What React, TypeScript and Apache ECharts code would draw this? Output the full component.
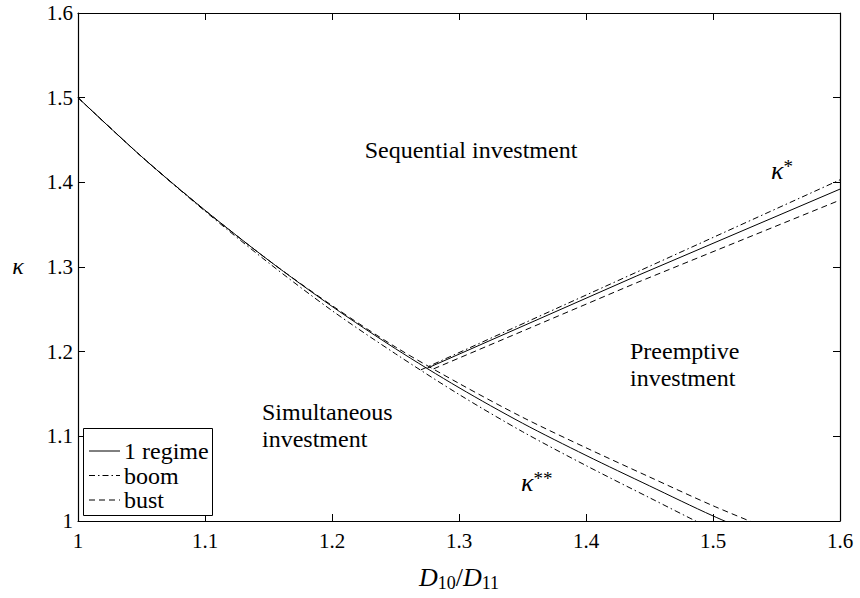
import React, { useEffect, useRef } from "react";
import * as echarts from "echarts";

// kappa** boundary (simultaneous vs. sequential/preemptive)
const xLower = [1, 1.05, 1.1, 1.15, 1.2, 1.25, 1.3, 1.35, 1.4, 1.45, 1.5, 1.55];
const regimeLower = [1.5, 1.4305, 1.367, 1.308, 1.2535, 1.2035, 1.1575, 1.1155, 1.0775, 1.0415, 1.006, 0.974];
const boomLower = [1.5, 1.4305, 1.366, 1.305, 1.2485, 1.1975, 1.1495, 1.1055, 1.0655, 1.0275, 0.99, 0.956];
const bustLower = [1.5, 1.4305, 1.367, 1.308, 1.2545, 1.2055, 1.1625, 1.1225, 1.0865, 1.052, 1.018, 0.987];

// kappa* boundary (sequential vs. preemptive)
const regimeUpperX = [1.275, 1.44, 1.6];
const regimeUpperY = [1.1805, 1.2895, 1.392];
const boomUpperX = [1.27, 1.44, 1.6];
const boomUpperY = [1.1785, 1.294, 1.403];
const bustUpperX = [1.28, 1.44, 1.6];
const bustUpperY = [1.1797, 1.2815, 1.379];

const legendNames = ["1 regime", "boom", "bust"];
const axisTicks = { min: 1, max: 1.6, interval: 0.1 };

const SERIF = "'Liberation Serif', 'Times New Roman', serif";
const DASH_DOT = [6, 3, 1.5, 3];
const DASHED = [6, 4];
const legendDash: any[] = [null, DASH_DOT, DASHED];

const pairs = (xs: number[], ys: number[]) => xs.map((x, i) => [x, ys[i]]);

export default function App() {
  const ref = useRef<HTMLDivElement>(null);

  useEffect(() => {
    const chart = echarts.init(ref.current!, null, { renderer: "svg" });

    const lineSeries = (name: string, data: number[][], type: any, smooth: number) => ({
      type: "line",
      name,
      data,
      symbol: "none",
      showSymbol: false,
      smooth,
      clip: true,
      lineStyle: { color: "#000", width: 1, type },
      itemStyle: { color: "#000" },
      emphasis: { disabled: true },
    });

    const baseX = {
      type: "value",
      ...axisTicks,
      splitLine: { show: false },
      axisLine: { show: true, onZero: false, lineStyle: { color: "#000", width: 1.2 } },
      axisTick: { show: true, inside: true, length: 7, lineStyle: { color: "#000" } },
    };

    const tickLabel = {
      show: true,
      fontFamily: SERIF,
      fontSize: 21,
      color: "#000",
      formatter: (v: number) => String(+v.toFixed(1)),
    };

    // manual MATLAB-style legend box
    const legendTop = 428;
    const legendRowY = [451, 475.5, 500];
    const legendGraphics: any[] = [
      {
        type: "rect",
        shape: { x: 83.5, y: legendTop + 0.5, width: 129, height: 87 },
        style: { fill: "#fff", stroke: "#000", lineWidth: 1 },
        z: 100,
      },
    ];
    legendNames.forEach((name, i) => {
      legendGraphics.push({
        type: "line",
        shape: { x1: 89, y1: legendRowY[i], x2: 120, y2: legendRowY[i] },
        style: { stroke: "#000", lineWidth: 1, lineDash: legendDash[i] || undefined },
        z: 101,
      });
      legendGraphics.push({
        type: "text",
        x: 124,
        y: legendRowY[i],
        style: { text: name, fontFamily: SERIF, fontSize: 24, fill: "#000", align: "left", verticalAlign: "middle" },
        z: 101,
      });
    });

    const option: any = {
      animation: false,
      backgroundColor: "#fff",
      grid: { left: 78, right: 20, top: 13, bottom: 77, containLabel: false },
      xAxis: [
        { ...baseX, position: "bottom", axisLabel: { ...tickLabel, margin: 9 } },
        { ...baseX, position: "top", axisLabel: { show: false } },
      ],
      yAxis: [
        { ...baseX, position: "left", axisLabel: { ...tickLabel, margin: 5 } },
        { ...baseX, position: "right", axisLabel: { show: false } },
      ],
      series: [
        lineSeries("1 regime", pairs(xLower, regimeLower), "solid", 0.3),
        lineSeries("boom", pairs(xLower, boomLower), DASH_DOT, 0.3),
        lineSeries("bust", pairs(xLower, bustLower), DASHED, 0.3),
        lineSeries("1 regime κ*", pairs(regimeUpperX, regimeUpperY), "solid", 0),
        lineSeries("boom κ*", pairs(boomUpperX, boomUpperY), DASH_DOT, 0),
        lineSeries("bust κ*", pairs(bustUpperX, bustUpperY), DASHED, 0),
      ],
      graphic: [
        {
          type: "text",
          x: 471,
          y: 150,
          style: { text: "Sequential investment", fontFamily: SERIF, fontSize: 24, fill: "#000", align: "center", verticalAlign: "middle" },
        },
        {
          type: "text",
          x: 630,
          y: 364,
          style: { text: "Preemptive\ninvestment", fontFamily: SERIF, fontSize: 24, lineHeight: 27, fill: "#000", align: "left", verticalAlign: "middle" },
        },
        {
          type: "text",
          x: 262,
          y: 425,
          style: { text: "Simultaneous\ninvestment", fontFamily: SERIF, fontSize: 24, lineHeight: 27, fill: "#000", align: "left", verticalAlign: "middle" },
        },
        {
          type: "text",
          x: 771,
          y: 170,
          style: {
            text: "{k|κ}{s|*}",
            align: "left",
            verticalAlign: "middle",
            rich: {
              k: { fontFamily: SERIF, fontStyle: "italic", fontSize: 26, fill: "#000", lineHeight: 26, verticalAlign: "bottom" },
              s: { fontFamily: SERIF, fontSize: 19, fill: "#000", lineHeight: 26, verticalAlign: "top" },
            },
          },
        },
        {
          type: "text",
          x: 521,
          y: 482,
          style: {
            text: "{k|κ}{s|**}",
            align: "left",
            verticalAlign: "middle",
            rich: {
              k: { fontFamily: SERIF, fontStyle: "italic", fontSize: 26, fill: "#000", lineHeight: 26, verticalAlign: "bottom" },
              s: { fontFamily: SERIF, fontSize: 19, fill: "#000", lineHeight: 26, verticalAlign: "top" },
            },
          },
        },
        {
          type: "text",
          x: 18,
          y: 266,
          style: { text: "κ", fontFamily: SERIF, fontStyle: "italic", fontSize: 24, fill: "#000", align: "center", verticalAlign: "middle" },
        },
        {
          type: "text",
          x: 459,
          y: 577,
          style: {
            text: "{d|D}{b|10}{n|/}{d|D}{b|11}",
            align: "center",
            verticalAlign: "middle",
            rich: {
              d: { fontFamily: SERIF, fontStyle: "italic", fontSize: 26, fill: "#000", lineHeight: 30, verticalAlign: "middle" },
              n: { fontFamily: SERIF, fontSize: 26, fill: "#000", lineHeight: 30, verticalAlign: "middle" },
              b: { fontFamily: SERIF, fontSize: 18, fill: "#000", lineHeight: 18, verticalAlign: "bottom" },
            },
          },
        },
        ...legendGraphics,
      ],
    };

    chart.setOption(option);
    return () => chart.dispose();
  }, []);

  return (
    <div
      ref={ref}
      style={{ position: "fixed", left: 0, top: 0, width: 860, height: 598, background: "#fff" }}
    />
  );
}
